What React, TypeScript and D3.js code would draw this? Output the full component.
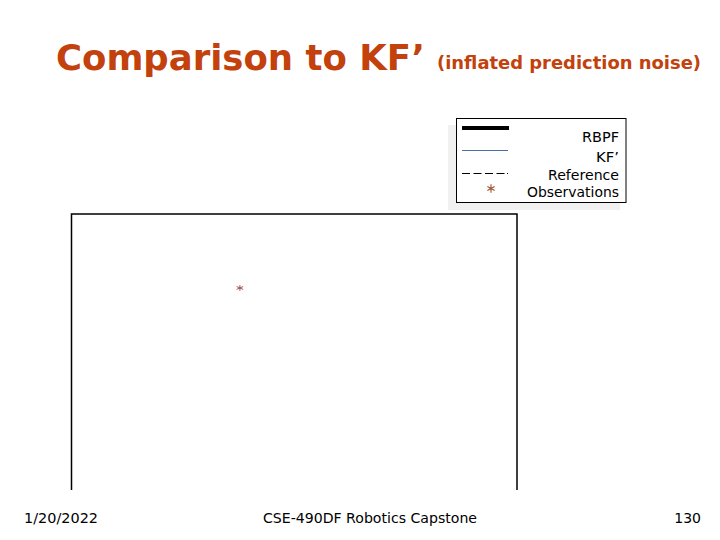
import React from "react";
import * as d3 from "d3";

const titleMain = "Comparison to KF’";
const titleSub = "(inflated prediction noise)";
const legendLabels = ["RBPF", "KF’", "Reference", "Observations"];
const legendWidths = [37, 23, 71, 92];
const rbpfX: number[] = [];
const rbpfY: number[] = [];
const kfX: number[] = [];
const kfY: number[] = [];
const refX: number[] = [];
const refY: number[] = [];
const obsX = [37.8];
const obsY = [73.2];
const footerLeft = "1/20/2022";
const footerCenter = "CSE-490DF Robotics Capstone";
const footerRight = "130";

export default function App() {
  const W = 720, H = 540;
  const x = d3.scaleLinear().domain([0, 100]).range([71.5, 517]);
  const y = d3.scaleLinear().domain([0, 100]).range([490, 214]);
  const line = d3.line<[number, number]>().x(d => x(d[0])).y(d => y(d[1]));
  const rbpf = rbpfX.map((v, i) => [v, rbpfY[i]] as [number, number]);
  const kf = kfX.map((v, i) => [v, kfY[i]] as [number, number]);
  const ref = refX.map((v, i) => [v, refY[i]] as [number, number]);
  const star = d3.symbol(d3.symbolAsterisk, 40)() as string;
  const titleColor = "#c2410c";
  const obsColor = "#a33a3a";
  const font = "Verdana, 'DejaVu Sans', sans-serif";
  const font2 = "Tahoma, 'DejaVu Sans', sans-serif";
  return (
    <svg width={W} height={H} style={{ position: "absolute", left: 0, top: 0, background: "#fff" }}>
      <rect x={0} y={0} width={W} height={H} fill="#fff" />
      <text x={56} y={70} fontFamily={font} fontWeight="bold" fontSize={36} fill={titleColor}
        textLength={369} lengthAdjust="spacingAndGlyphs">{titleMain}</text>
      <text x={437} y={69} fontFamily={font} fontWeight="bold" fontSize={17} fill={titleColor}
        textLength={264} lengthAdjust="spacingAndGlyphs">{titleSub}</text>

      {/* legend */}
      <rect x={448} y={125} width={172} height={85} fill="#f1f1f1" />
      <rect x={456.5} y={118.5} width={169.5} height={84} fill="#fff" stroke="#000" strokeWidth={1} />
      <line x1={462} x2={509} y1={128} y2={128} stroke="#000" strokeWidth={4} />
      <line x1={462} x2={508} y1={150.5} y2={150.5} stroke="#4a6fa5" strokeWidth={1} />
      <line x1={462} x2={505} y1={173.5} y2={173.5} stroke="#000" strokeWidth={1} strokeDasharray="8,3.5" />
      <line x1={507} x2={508} y1={173.5} y2={173.5} stroke="#000" strokeWidth={1} />
      <path d={star} transform="translate(491,188.5) scale(1.1)" fill="none" stroke="#a0522d" strokeWidth={1} />
      {legendLabels.map((l, i) => (
        <text key={l} x={619} y={[141.5, 162.3, 180, 197.3][i]} textAnchor="end" fontFamily={font2}
          fontSize={14.5} fill="#000" textLength={legendWidths[i]} lengthAdjust="spacingAndGlyphs">{l}</text>
      ))}

      {/* axes box (open bottom) */}
      <path d={`M${x(0)},${y(0)}V${y(100)}H${x(100)}V${y(0)}`} fill="none" stroke="#000" strokeWidth={1.5} />
      <path d={line(rbpf) || ""} fill="none" stroke="#000" strokeWidth={3} />
      <path d={line(kf) || ""} fill="none" stroke="#4a6fa5" strokeWidth={1} />
      <path d={line(ref) || ""} fill="none" stroke="#000" strokeWidth={1} strokeDasharray="8,3.5" />
      {obsX.map((v, i) => (
        <path key={i} d={star} transform={`translate(${x(v)},${y(obsY[i])}) scale(1,0.75)`} fill="none"
          stroke={obsColor} strokeWidth={1} />
      ))}

      {/* footer */}
      <text x={24} y={523} fontFamily={font2} fontSize={14} fill="#000" textLength={74} lengthAdjust="spacingAndGlyphs">{footerLeft}</text>
      <text x={370} y={523} textAnchor="middle" fontFamily={font2} fontSize={14} fill="#000" textLength={214} lengthAdjust="spacingAndGlyphs">{footerCenter}</text>
      <text x={701} y={523} textAnchor="end" fontFamily={font2} fontSize={14} fill="#000">{footerRight}</text>
    </svg>
  );
}
